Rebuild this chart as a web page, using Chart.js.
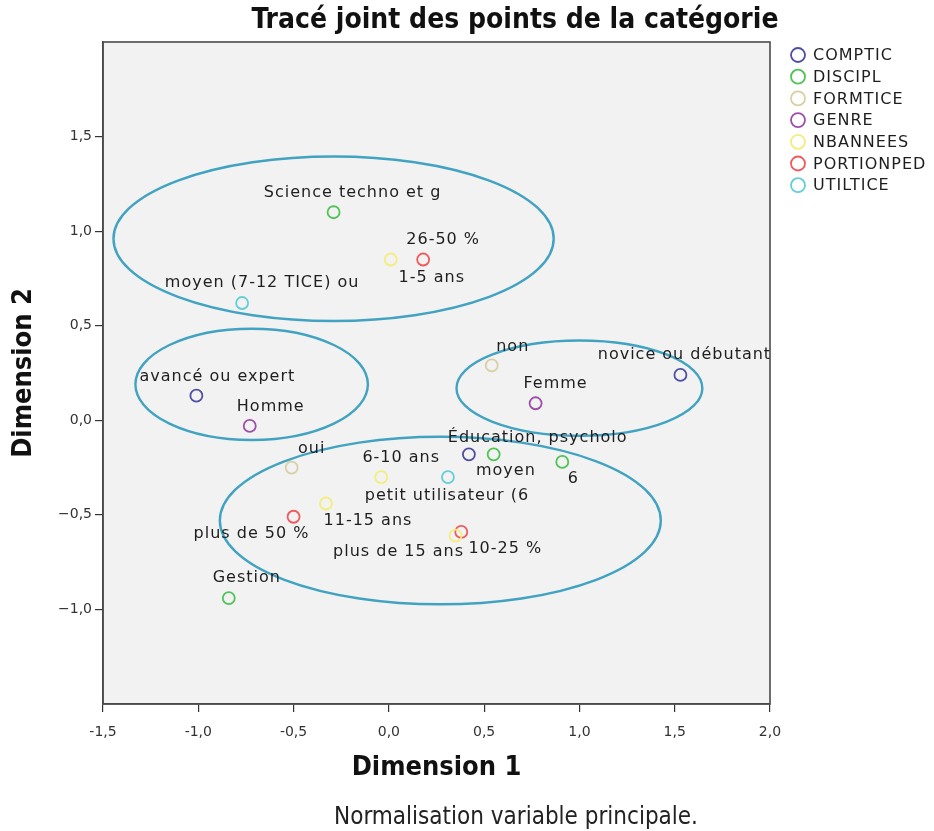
<!DOCTYPE html>
<html>
<head>
<meta charset="utf-8">
<script src="https://cdn.jsdelivr.net/npm/chart.js@4/dist/chart.umd.min.js"></script>
<style>
  html, body { margin: 0; padding: 0; background: #ffffff; }
  #wrap { width: 934px; height: 831px; }
</style>
</head>
<body>
<div id="wrap"><canvas id="c" width="934" height="831"></canvas></div>
<script>
// ---------------- DATA ----------------
const seriesNames = ["COMPTIC", "DISCIPL", "FORMTICE", "GENRE", "NBANNEES", "PORTIONPED", "UTILTICE"];

const compticLabels = ["avancé ou expert", "novice ou débutant", "moyen"];
const compticX = [-1.01, 1.53, 0.42];
const compticY = [0.13, 0.24, -0.18];

const disciplLabels = ["Science techno et g", "Éducation, psycholo", "6", "Gestion"];
const disciplX = [-0.29, 0.55, 0.91, -0.84];
const disciplY = [1.10, -0.18, -0.22, -0.94];

const formticeLabels = ["non", "oui"];
const formticeX = [0.54, -0.51];
const formticeY = [0.29, -0.25];

const genreLabels = ["Homme", "Femme"];
const genreX = [-0.73, 0.77];
const genreY = [-0.03, 0.09];

const nbanneesLabels = ["1-5 ans", "6-10 ans", "11-15 ans", "plus de 15 ans"];
const nbanneesX = [0.01, -0.04, -0.33, 0.35];
const nbanneesY = [0.85, -0.30, -0.44, -0.61];

const portionpedLabels = ["26-50 %", "plus de 50 %", "10-25 %"];
const portionpedX = [0.18, -0.50, 0.38];
const portionpedY = [0.85, -0.51, -0.59];

const utilticeLabels = ["moyen (7-12 TICE) ou", "petit utilisateur (6"];
const utilticeX = [-0.77, 0.31];
const utilticeY = [0.62, -0.30];

const xTicks = [-1.5, -1.0, -0.5, 0.0, 0.5, 1.0, 1.5, 2.0];
const yTicks = [-1.0, -0.5, 0.0, 0.5, 1.0, 1.5];

// ellipse annotations (data units): centre x, centre y, radius x, radius y
const ellipseCX = [-0.29, -0.72, 1.00, 0.27];
const ellipseCY = [0.96, 0.19, 0.17, -0.53];
const ellipseRX = [1.155, 0.61, 0.645, 1.157];
const ellipseRY = [0.435, 0.294, 0.252, 0.443];

// ---------------- STYLE ----------------
const seriesColors = ["#4d4ea3", "#4fc456", "#d8cfa4", "#9d4fa9", "#f3ee7c", "#f05a5c", "#62cfd8"];
// label offsets in pixels (text centre relative to its point)
const labelOffsets = [
  [[21, -19], [4, -20], [37, 17]],
  [[19, -19], [44, -16], [11, 17], [18, -20]],
  [[21, -19], [20, -19]],
  [[21, -19], [20, -19]],
  [[41, 18], [20, -19], [42, 17], [-57, 16]],
  [[20, -20], [-42, 17], [44, 17]],
  [[20, -20], [-1, 19]]
];

const allLabels = [compticLabels, disciplLabels, formticeLabels, genreLabels, nbanneesLabels, portionpedLabels, utilticeLabels];
const allX = [compticX, disciplX, formticeX, genreX, nbanneesX, portionpedX, utilticeX];
const allY = [compticY, disciplY, formticeY, genreY, nbanneesY, portionpedY, utilticeY];

const datasets = seriesNames.map((name, i) => ({
  label: name,
  data: allX[i].map((x, j) => ({ x: x, y: allY[i][j] })),
  pointLabels: allLabels[i],
  borderColor: seriesColors[i],
  backgroundColor: 'rgba(0,0,0,0)',
  pointStyle: 'circle',
  pointRadius: 6,
  pointBorderWidth: 1.8,
  showLine: false
}));

function fmt(v, minus) {
  const s = Math.abs(v).toFixed(1).replace('.', ',');
  return (v < -1e-9 ? minus : '') + s;
}

const decor = {
  id: 'decor',
  beforeDraw(chart) {
    const ctx = chart.ctx, a = chart.chartArea;
    ctx.save();
    ctx.fillStyle = '#ffffff';
    ctx.fillRect(0, 0, chart.width, chart.height);
    ctx.fillStyle = '#f2f2f2';
    ctx.fillRect(a.left, a.top, a.right - a.left, a.bottom - a.top);
    ctx.restore();
  },
  afterDatasetsDraw(chart) {
    const ctx = chart.ctx, a = chart.chartArea;
    const xs = chart.scales.x, ys = chart.scales.y;
    // ellipses
    ctx.save();
    ctx.beginPath();
    ctx.rect(a.left, a.top, a.right - a.left, a.bottom - a.top);
    ctx.clip();
    ctx.strokeStyle = '#41a3c1';
    ctx.lineWidth = 2.4;
    for (let i = 0; i < ellipseCX.length; i++) {
      const cx = xs.getPixelForValue(ellipseCX[i]);
      const cy = ys.getPixelForValue(ellipseCY[i]);
      const rx = Math.abs(xs.getPixelForValue(ellipseCX[i] + ellipseRX[i]) - cx);
      const ry = Math.abs(ys.getPixelForValue(ellipseCY[i] + ellipseRY[i]) - cy);
      ctx.beginPath();
      ctx.ellipse(cx, cy, rx, ry, 0, 0, Math.PI * 2);
      ctx.stroke();
    }
    ctx.restore();
    // point labels
    ctx.save();
    ctx.font = "16px 'DejaVu Sans'";
    ctx.letterSpacing = '1px';
    ctx.fillStyle = '#1e1e1e';
    ctx.textAlign = 'center';
    ctx.textBaseline = 'middle';
    chart.data.datasets.forEach((ds, i) => {
      const meta = chart.getDatasetMeta(i);
      meta.data.forEach((pt, j) => {
        const off = labelOffsets[i][j];
        ctx.fillText(ds.pointLabels[j], pt.x + off[0], pt.y + off[1]);
      });
    });
    ctx.restore();
  },
  afterDraw(chart) {
    const ctx = chart.ctx, a = chart.chartArea;
    ctx.save();
    // frame
    ctx.strokeStyle = '#4a4a4a';
    ctx.lineWidth = 1.6;
    ctx.strokeRect(a.left, a.top, a.right - a.left, a.bottom - a.top);
    // title
    ctx.fillStyle = '#111111';
    ctx.textAlign = 'center';
    ctx.textBaseline = 'middle';
    ctx.font = "bold 28px 'DejaVu Sans Condensed', 'DejaVu Sans'";
    ctx.fillText('Tracé joint des points de la catégorie', 515, 21);
    // axis titles
    ctx.font = "bold 27px 'DejaVu Sans Condensed', 'DejaVu Sans'";
    ctx.fillText('Dimension 1', (a.left + a.right) / 2, 768);
    ctx.save();
    ctx.translate(24, (a.top + a.bottom) / 2);
    ctx.rotate(-Math.PI / 2);
    ctx.fillText('Dimension 2', 0, 0);
    ctx.restore();
    // footnote
    ctx.fillStyle = '#222222';
    ctx.font = "24px 'DejaVu Sans Condensed', 'DejaVu Sans'";
    ctx.fillText('Normalisation variable principale.', 516, 818);
    // legend
    ctx.textAlign = 'left';
    ctx.font = "16px 'DejaVu Sans'";
    ctx.letterSpacing = '1px';
    chart.data.datasets.forEach((ds, i) => {
      const y = 55 + i * 21.7;
      ctx.beginPath();
      ctx.arc(798, y, 7, 0, Math.PI * 2);
      ctx.strokeStyle = ds.borderColor;
      ctx.lineWidth = 1.8;
      ctx.stroke();
      ctx.fillStyle = '#1e1e1e';
      ctx.fillText(ds.label, 813, y + 1);
    });
    ctx.restore();
  }
};

new Chart(document.getElementById('c'), {
  type: 'scatter',
  data: { datasets: datasets },
  options: {
    responsive: false,
    animation: false,
    layout: { padding: { left: 0, right: 164, top: 42, bottom: 0 } },
    plugins: { legend: { display: false }, tooltip: { enabled: false }, title: { display: false } },
    scales: {
      x: {
        type: 'linear', min: -1.5, max: 2.0,
        afterFit: s => { s.height = 127; },
        afterBuildTicks: s => { s.ticks = xTicks.map(v => ({ value: v })); },
        ticks: { padding: 12, color: '#333333', font: { family: "'DejaVu Sans'", size: 14 },
          callback: v => fmt(v, '-'), maxRotation: 0, autoSkip: false },
        grid: { display: true, drawOnChartArea: false, drawTicks: true, tickLength: 8, color: '#333333', lineWidth: 1.2 },
        border: { display: true, color: '#4a4a4a', width: 1.6 }
      },
      y: {
        type: 'linear', min: -1.5, max: 2.0,
        afterFit: s => { s.width = 103; },
        afterBuildTicks: s => { s.ticks = yTicks.map(v => ({ value: v })); },
        ticks: { padding: 3, color: '#333333', font: { family: "'DejaVu Sans'", size: 14 },
          callback: v => fmt(v, '−'), autoSkip: false },
        grid: { display: true, drawOnChartArea: false, drawTicks: true, tickLength: 8, color: '#333333', lineWidth: 1.2 },
        border: { display: true, color: '#4a4a4a', width: 1.6 }
      }
    }
  },
  plugins: [decor]
});
</script>
</body>
</html>
